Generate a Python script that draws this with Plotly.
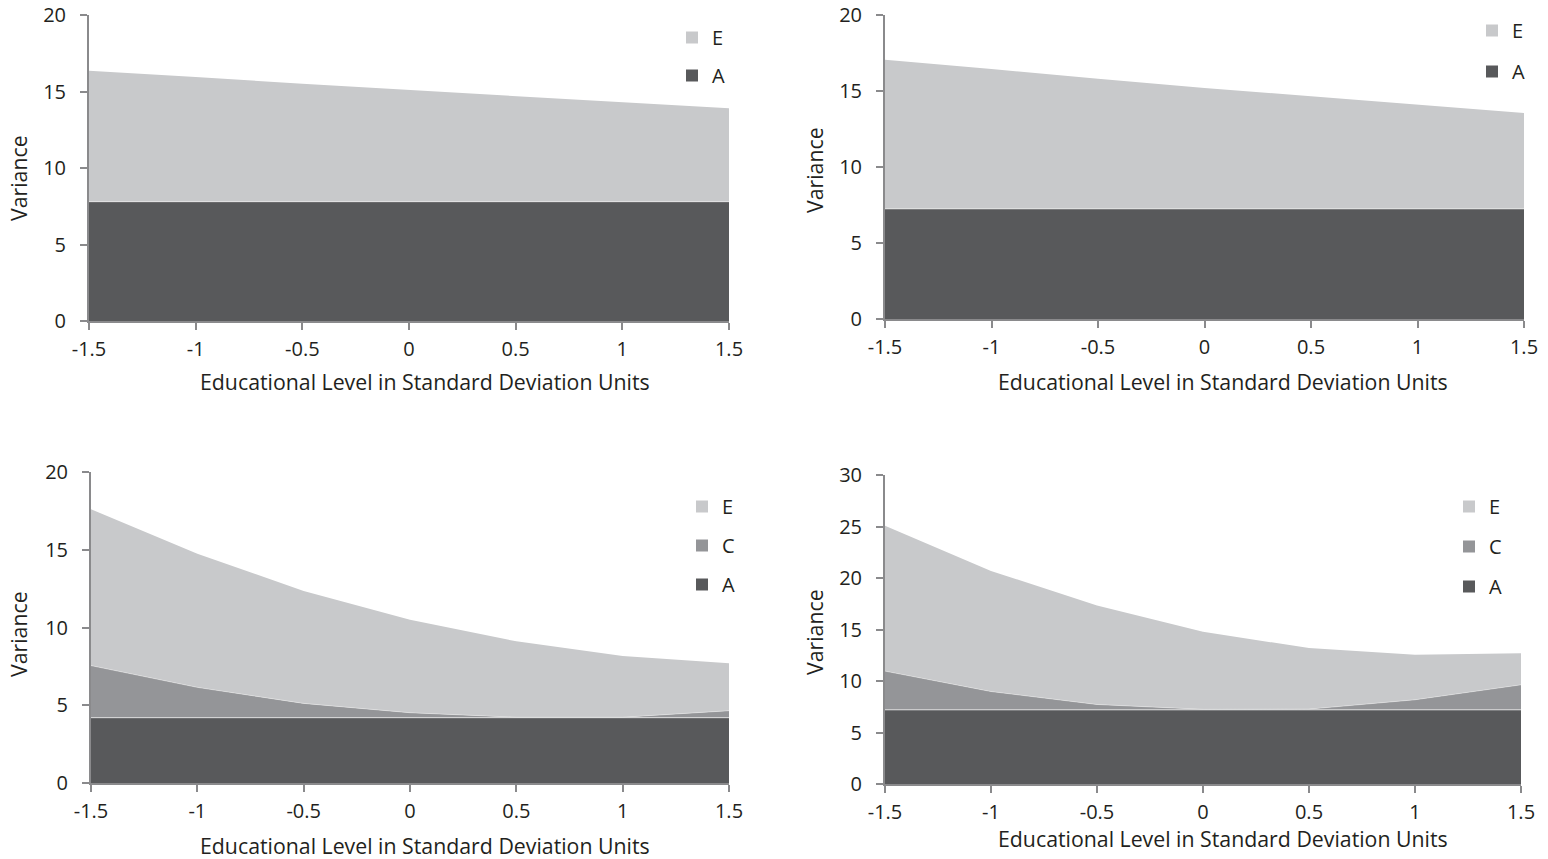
import plotly.graph_objects as go

W, H = 1548, 859

x_vals = [-1.5, -1, -0.5, 0, 0.5, 1, 1.5]
x_ticks = [-1.5, -1, -0.5, 0, 0.5, 1, 1.5]
x_ticktext = ["-1.5", "-1", "-0.5", "0", "0.5", "1", "1.5"]

# Panel 1 (top-left): A and E stacked
p1_A = [7.8, 7.8, 7.8, 7.8, 7.8, 7.8, 7.8]
p1_E = [8.55, 8.15, 7.7, 7.3, 6.9, 6.5, 6.1]

# Panel 2 (top-right)
p2_A = [7.25, 7.25, 7.25, 7.25, 7.25, 7.25, 7.25]
p2_E = [9.8, 9.2, 8.55, 7.95, 7.4, 6.85, 6.3]

# Panel 3 (bottom-left): A, C, E stacked
p3_A = [4.2, 4.2, 4.2, 4.2, 4.2, 4.2, 4.2]
p3_C = [3.35, 1.95, 0.92, 0.32, 0.03, 0.03, 0.45]
p3_E = [10.05, 8.6, 7.23, 5.98, 4.88, 3.93, 3.05]

# Panel 4 (bottom-right)
p4_A = [7.2, 7.2, 7.2, 7.2, 7.2, 7.2, 7.2]
p4_C = [3.76, 1.78, 0.52, 0.05, 0.07, 0.98, 2.43]
p4_E = [14.12, 11.71, 9.6, 7.52, 5.93, 4.36, 3.07]

y_ticks_20 = [0, 5, 10, 15, 20]
y_ticks_30 = [0, 5, 10, 15, 20, 25, 30]

x_title = "Educational Level in Standard Deviation Units"
y_title = "Variance"

COL = {"A": "#58595b", "C": "#949598", "E": "#c8c9cb"}
LINE = {"A": "rgba(235,235,235,0.8)", "C": "rgba(235,235,235,0.5)", "E": "rgba(0,0,0,0)"}
FONT = "Open Sans, Noto Sans, sans-serif"
TXT = "#231f20"
AXC = "#8a8a8c"
TICK_SIZE = 20
TITLE_SIZE = 21.3
LEG_SIZE = 20


def fx(px):
    return px / W


def fy(py):
    return 1 - py / H


panels = [
    dict(ax="", series=[("A", p1_A), ("E", p1_E)], legend="legend",
         dom=(89, 729, 15, 321), ymax=20, yt=y_ticks_20, gap=9,
         leg=(672, 18), xt=(425, 382), ytl=(18, 178)),
    dict(ax="2", series=[("A", p2_A), ("E", p2_E)], legend="legend2",
         dom=(885, 1524, 15, 319), ymax=20, yt=y_ticks_20, gap=12,
         leg=(1472, 11), xt=(1223, 382), ytl=(814, 170)),
    dict(ax="3", series=[("A", p3_A), ("C", p3_C), ("E", p3_E)], legend="legend3",
         dom=(91, 729, 472, 783), ymax=20, yt=y_ticks_20, gap=10,
         leg=(682, 487), xt=(425, 845), ytl=(18, 634)),
    dict(ax="4", series=[("A", p4_A), ("C", p4_C), ("E", p4_E)], legend="legend4",
         dom=(885, 1521, 475, 784), ymax=30, yt=y_ticks_30, gap=11,
         leg=(1449, 487), xt=(1223, 838), ytl=(814, 632)),
]

fig = go.Figure()
layout = dict(
    template="none",
    width=W, height=H, margin=dict(l=0, r=0, t=0, b=0, autoexpand=False),
    paper_bgcolor="white", plot_bgcolor="white",
    font=dict(family=FONT, size=18, color=TXT),
    showlegend=True, annotations=[],
)

for i, p in enumerate(panels):
    xa = "x" + p["ax"]
    ya = "y" + p["ax"]
    sg = "stack" + str(i)
    for name, vals in p["series"]:
        fig.add_trace(go.Scatter(
            x=x_vals, y=vals, xaxis=xa, yaxis=ya, stackgroup=sg, mode="lines",
            line=dict(width=1 if name != "E" else 0, color=LINE[name]),
            fillcolor=COL[name], name=name, showlegend=False, hoverinfo="skip"))
    for name, _ in reversed(p["series"]):
        fig.add_trace(go.Scatter(
            x=[None], y=[None], xaxis=xa, yaxis=ya, mode="markers",
            marker=dict(symbol="square", size=12, color=COL[name]),
            name=name, legend=p["legend"], legendgroup=p["legend"] + name,
            showlegend=True))
    x0, x1, y0, y1 = p["dom"]
    layout["xaxis" + p["ax"]] = dict(
        domain=[fx(x0), fx(x1)], range=[-1.5, 1.5], anchor=ya, automargin=False,
        tickmode="array", tickvals=x_ticks, ticktext=x_ticktext,
        showline=True, linecolor=AXC, linewidth=2, ticks="outside",
        ticklen=7, tickwidth=2, tickcolor=AXC, showgrid=False, zeroline=False,
        ticklabeloverflow="allow", fixedrange=True,
        ticklabelstandoff=2, tickfont=dict(size=TICK_SIZE, color=TXT, family=FONT))
    layout["yaxis" + p["ax"]] = dict(
        domain=[fy(y1), fy(y0)], range=[0, p["ymax"]], anchor=xa, automargin=False,
        tickmode="array", tickvals=p["yt"],
        showline=True, linecolor=AXC, linewidth=2, ticks="outside",
        ticklen=7, tickwidth=2, tickcolor=AXC, showgrid=False, zeroline=False,
        ticklabeloverflow="allow", fixedrange=True,
        ticklabelstandoff=10, tickfont=dict(size=TICK_SIZE, color=TXT, family=FONT))
    lx, ly = p["leg"]
    layout[p["legend"]] = dict(
        x=fx(lx), y=fy(ly), xanchor="left", yanchor="top",
        bgcolor="rgba(0,0,0,0)", traceorder="grouped", tracegroupgap=p["gap"],
        itemwidth=30, font=dict(size=LEG_SIZE, color=TXT, family=FONT))
    tx, ty = p["xt"]
    layout["annotations"].append(dict(
        text=x_title, x=fx(tx), y=fy(ty), xref="paper", yref="paper",
        xanchor="center", yanchor="middle", showarrow=False,
        font=dict(size=TITLE_SIZE, color=TXT, family=FONT)))
    yx, yy = p["ytl"]
    layout["annotations"].append(dict(
        text=y_title, x=fx(yx), y=fy(yy), xref="paper", yref="paper",
        xanchor="center", yanchor="middle", showarrow=False, textangle=-90,
        font=dict(size=TITLE_SIZE, color=TXT, family=FONT)))

fig.update_layout(**layout)
fig.write_html(
    "out.html",
    config={"displayModeBar": False},
    post_script="document.body.style.margin='0';document.body.style.overflow='hidden';",
)
